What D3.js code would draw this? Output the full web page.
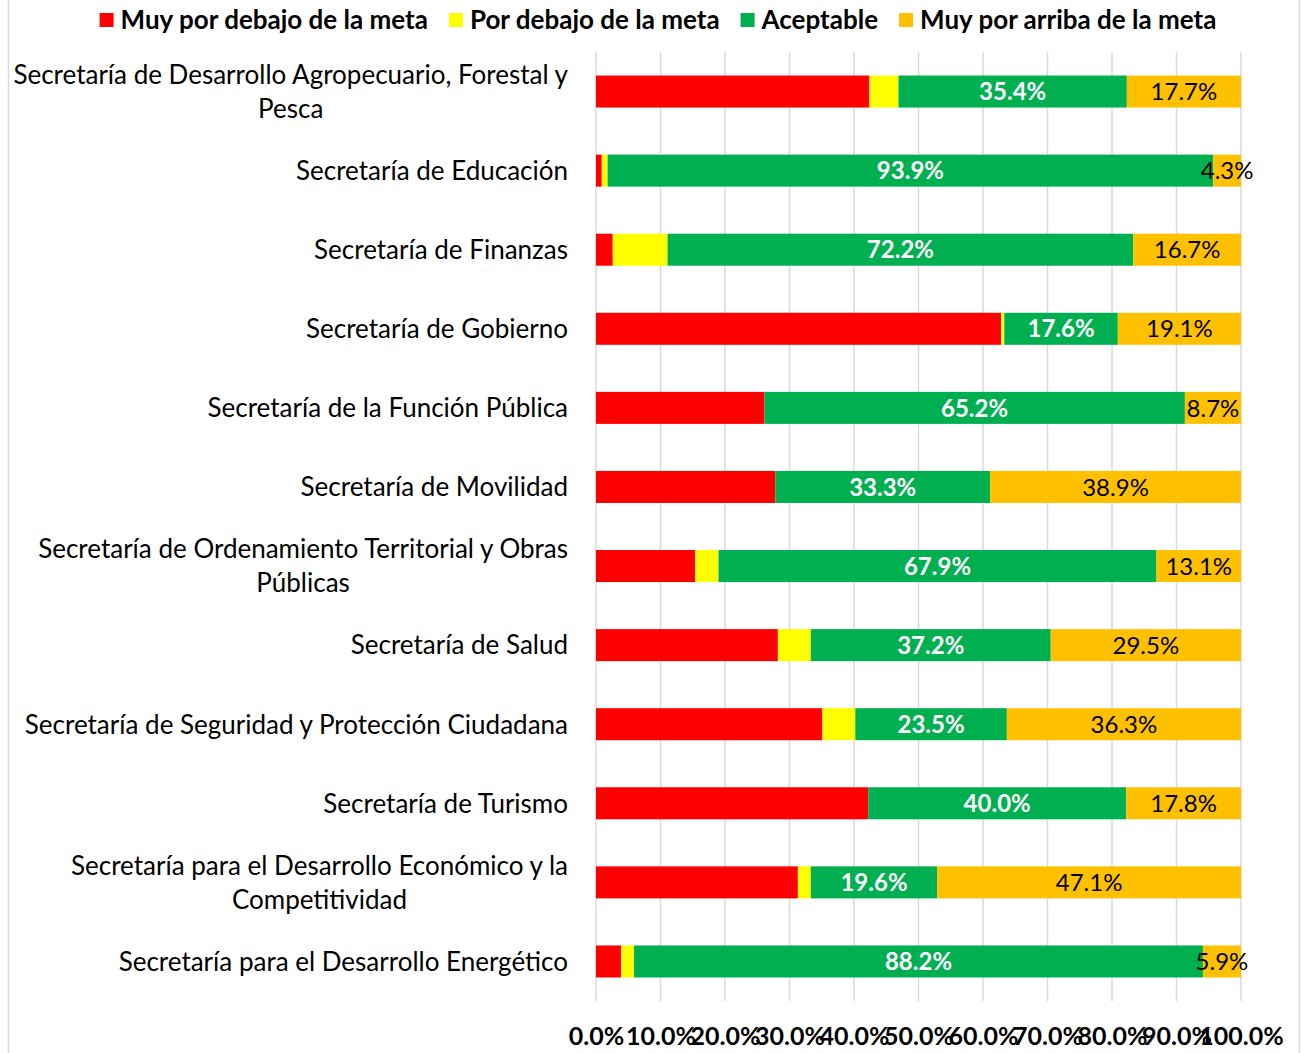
<!DOCTYPE html>
<html>
<head>
<meta charset="utf-8">
<script src="https://cdn.jsdelivr.net/npm/d3@7"></script>
<style>
  body { margin: 0; background: #fff; }
  svg { display: block; }
</style>
</head>
<body>
<script>
// Categories (\n marks the wrapped second line)
const categories = [
    "Secretaría de Desarrollo Agropecuario, Forestal y\nPesca",
    "Secretaría de Educación",
    "Secretaría de Finanzas",
    "Secretaría de Gobierno",
    "Secretaría de la Función Pública",
    "Secretaría de Movilidad",
    "Secretaría de Ordenamiento Territorial y Obras\nPúblicas",
    "Secretaría de Salud",
    "Secretaría de Seguridad y Protección Ciudadana",
    "Secretaría de Turismo",
    "Secretaría para el Desarrollo Económico y la\nCompetitividad",
    "Secretaría para el Desarrollo Energético"
];

const seriesNames = ["Muy por debajo de la meta", "Por debajo de la meta", "Aceptable", "Muy por arriba de la meta"];
const seriesColors = ["#FF0000", "#FFFF00", "#00B050", "#FFC000"];

const muyDebajo = [42.4, 0.9, 2.6, 62.8, 26.1, 27.8, 15.4, 28.2, 35.1, 42.2, 31.3, 3.9];
const debajo    = [4.5, 0.9, 8.5, 0.5, 0, 0, 3.6, 5.1, 5.1, 0, 2.0, 2.0];
const aceptable = [35.4, 93.9, 72.2, 17.6, 65.2, 33.3, 67.9, 37.2, 23.5, 40.0, 19.6, 88.2];
const muyArriba = [17.7, 4.3, 16.7, 19.1, 8.7, 38.9, 13.1, 29.5, 36.3, 17.8, 47.1, 5.9];

const tickValues = [0, 10, 20, 30, 40, 50, 60, 70, 80, 90, 100];

// Layout
const width = 1303;
const height = 1053;
const font = "Lato, 'Open Sans', sans-serif";

const table = categories.map((c, i) => ({
    cat: c,
    s0: muyDebajo[i],
    s1: debajo[i],
    s2: aceptable[i],
    s3: muyArriba[i]
}));

const stack = d3.stack().keys(["s0", "s1", "s2", "s3"])(table);

const x = d3.scaleLinear().domain([0, 100]).range([596, 1241]);
const y = d3.scaleBand().domain(categories).range([52, 1001])
    .paddingInner(0.595).paddingOuter(0.2975);

const svg = d3.select("body").append("svg")
    .attr("width", width)
    .attr("height", height)
    .attr("font-family", font);

// chart frame edges
svg.append("line").attr("x1", 8.5).attr("x2", 8.5).attr("y1", 0).attr("y2", height)
    .attr("stroke", "#d9d9d9").attr("stroke-width", 1.5);
svg.append("line").attr("x1", 1299.5).attr("x2", 1299.5).attr("y1", 0).attr("y2", height)
    .attr("stroke", "#d9d9d9").attr("stroke-width", 1.5);

// Gridlines
svg.append("g")
    .selectAll("line")
    .data(tickValues)
    .join("line")
    .attr("x1", d => x(d)).attr("x2", d => x(d))
    .attr("y1", 52).attr("y2", 1001)
    .attr("stroke", "#d9d9d9")
    .attr("stroke-width", 1.5);

// Bars
svg.append("g")
    .selectAll("g")
    .data(stack)
    .join("g")
    .attr("fill", (d, i) => seriesColors[i])
    .selectAll("rect")
    .data(d => d)
    .join("rect")
    .attr("x", d => x(d[0]))
    .attr("y", d => y(d.data.cat))
    .attr("width", d => Math.max(0, x(d[1]) - x(d[0])))
    .attr("height", y.bandwidth());

// Data labels for "Aceptable" and "Muy por arriba de la meta"
[2, 3].forEach(k => {
    svg.append("g")
        .selectAll("text")
        .data(stack[k])
        .join("text")
        .attr("x", d => (x(d[0]) + x(d[1])) / 2)
        .attr("y", d => y(d.data.cat) + y.bandwidth() / 2)
        .attr("dy", "0.36em")
        .attr("text-anchor", "middle")
        .attr("font-size", 24)
        .attr("font-weight", k === 2 ? 700 : 400)
        .attr("fill", k === 2 ? "#fff" : "#000")
        .text(d => (d[1] - d[0]).toFixed(1) + "%");
});

// Category labels (multi-line blocks centered on their widest line, right aligned)
const labelRight = 568;
svg.append("g")
    .selectAll("text")
    .data(categories)
    .join("text")
    .attr("font-size", 26)
    .attr("fill", "#000")
    .each(function (c) {
        const lines = c.split("\n");
        const t = d3.select(this);
        const cy = y(c) + y.bandwidth() / 2;
        const lh = 34;
        lines.forEach((ln, j) => {
            t.append("tspan")
                .attr("y", cy + (j - (lines.length - 1) / 2) * lh)
                .attr("dy", "0.36em")
                .text(ln);
        });
        const widths = [];
        t.selectAll("tspan").each(function () { widths.push(this.getComputedTextLength()); });
        const maxW = d3.max(widths);
        t.attr("text-anchor", "middle");
        t.selectAll("tspan").attr("x", labelRight - maxW / 2);
    });

// X axis
const xAxis = d3.axisBottom(x)
    .tickValues(tickValues)
    .tickSize(0)
    .tickPadding(0)
    .tickFormat(d => d.toFixed(1) + "%");

svg.append("g")
    .attr("transform", "translate(0,1027)")
    .call(xAxis)
    .call(g => g.select(".domain").remove())
    .call(g => g.selectAll("text")
        .attr("font-family", font)
        .attr("font-size", 25)
        .attr("font-weight", 700)
        .attr("fill", "#000"));

// Legend
const legend = svg.append("g").attr("font-size", 26).attr("font-weight", 700);
const items = legend.selectAll("g")
    .data(seriesNames)
    .join("g");

items.append("rect")
    .attr("width", 14).attr("height", 14)
    .attr("y", 13)
    .attr("fill", (d, i) => seriesColors[i]);

items.append("text")
    .attr("x", 21)
    .attr("y", 20)
    .attr("dy", "0.36em")
    .attr("fill", "#000")
    .text(d => d);

let cursor = 0;
const gap = 21;
items.each(function () {
    const w = 21 + d3.select(this).select("text").node().getComputedTextLength();
    d3.select(this).attr("transform", `translate(${cursor},0)`);
    cursor += w + gap;
});
const total = cursor - gap;
legend.attr("transform", `translate(${658 - total / 2},0)`);
</script>
</body>
</html>
